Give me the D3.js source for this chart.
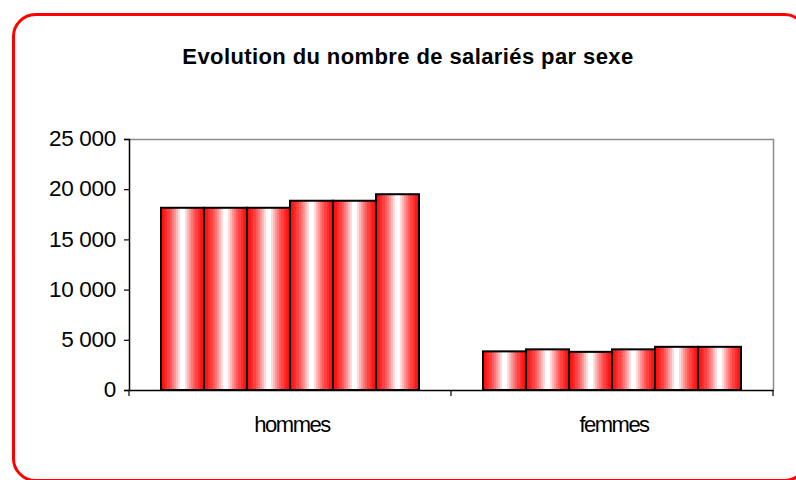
<!DOCTYPE html>
<html>
<head>
<meta charset="utf-8">
<script src="https://cdn.jsdelivr.net/npm/d3@7"></script>
<style>
html,body{margin:0;padding:0;background:#fff;}
svg{display:block;}
text{font-family:"Liberation Sans",Arial,sans-serif;fill:#000;}
</style>
</head>
<body>
<svg id="chart" width="796" height="480"></svg>
<script>
const title = "Evolution du nombre de salariés par sexe";
const categories = ["hommes", "femmes"];
const seriesNames = ["s1", "s2", "s3", "s4", "s5", "s6"];
const hommesValues = [18150, 18150, 18150, 18850, 18850, 19500];
const femmesValues = [3850, 4050, 3800, 4050, 4300, 4300];
const yTicks = [0, 5000, 10000, 15000, 20000, 25000];

const valuesByCat = {hommes: hommesValues, femmes: femmesValues};

const svg = d3.select("#chart");
const plot = {left: 129, right: 773, top: 139, bottom: 390};

// gradient (banded red-white-red)
const defs = svg.append("defs");
const grad = defs.append("linearGradient").attr("id", "barGrad")
  .attr("x1", "0").attr("x2", "1").attr("y1", "0").attr("y2", "0");
const nb = 10;
const colAt = t => d3.interpolateRgb("#ff0d0d", "#ffffff")(Math.pow(t, 1.4));
const stops = [];
for (let i = 0; i < nb; i++) {
  const c = colAt(i / (nb - 1));
  stops.push([i / nb * 0.5, c], [(i + 1) / nb * 0.5, c]);
}
for (let i = 0; i < nb; i++) {
  const c = colAt(1 - i / (nb - 1));
  stops.push([0.5 + i / nb * 0.5, c], [0.5 + (i + 1) / nb * 0.5, c]);
}
stops.forEach(s => grad.append("stop").attr("offset", s[0]).attr("stop-color", s[1]));

// outer rounded border
svg.append("rect")
  .attr("x", 13.5).attr("y", 14.5).attr("width", 793).attr("height", 466)
  .attr("rx", 22).attr("ry", 22)
  .attr("fill", "#fff").attr("stroke", "#ff0000").attr("stroke-width", 3);

// title
svg.append("text")
  .attr("x", 408).attr("y", 64)
  .attr("text-anchor", "middle")
  .style("font-size", "22px").style("font-weight", "bold")
  .style("letter-spacing", "0.4px")
  .text(title);

const x0 = d3.scaleBand().domain(categories).range([plot.left, plot.right]).paddingInner(0).paddingOuter(0);
const x1 = d3.scaleBand().domain(seriesNames).range([0, x0.bandwidth()]).paddingInner(0).paddingOuter(0.744);
const y = d3.scaleLinear().domain([0, 25000]).range([plot.bottom, plot.top]);

// plot area frame (top & right grey)
svg.append("path")
  .attr("d", `M${plot.left},${plot.top + 0.5}H${plot.right + 0.5}V${plot.bottom}`)
  .attr("fill", "none").attr("stroke", "#8c8c8c").attr("stroke-width", 1.5);

// bars
const gCats = svg.append("g").selectAll("g").data(categories).join("g")
  .attr("transform", d => `translate(${x0(d)},0)`);
gCats.selectAll("rect")
  .data(c => valuesByCat[c].map((v, i) => ({s: seriesNames[i], v})))
  .join("rect")
  .attr("x", d => x1(d.s))
  .attr("y", d => y(d.v))
  .attr("width", x1.bandwidth())
  .attr("height", d => y(0) - y(d.v))
  .attr("fill", "url(#barGrad)")
  .attr("stroke", "#000").attr("stroke-width", 2);

// y axis
const yAxis = d3.axisLeft(y).tickValues(yTicks).tickSize(5).tickPadding(8)
  .tickFormat(d => d3.format(",")(d).replace(/,/g, " "));
const gy = svg.append("g").attr("transform", `translate(${plot.left},0)`).call(yAxis);
gy.select(".domain").attr("stroke", "#000").attr("stroke-width", 1.5);
gy.selectAll(".tick line").attr("stroke", "#000").attr("stroke-width", 1.2);
gy.selectAll(".tick text")
  .style("font-size", "22.5px").style("letter-spacing", "-0.3px")
  .style("font-family", '"Liberation Sans",Arial,sans-serif')
  .attr("fill", "#000").attr("dy", "0.3em");

// x axis
const xAxis = d3.axisBottom(x0).tickSize(0).tickPadding(0);
const gx = svg.append("g").attr("transform", `translate(0,${plot.bottom})`).call(xAxis);
gx.select(".domain").attr("stroke", "#000").attr("stroke-width", 1.5);
gx.selectAll(".tick text")
  .style("font-size", "22px").style("letter-spacing", "-1.5px")
  .style("font-family", '"Liberation Sans",Arial,sans-serif')
  .attr("fill", "#000").attr("y", 42).attr("dy", 0)
  .attr("transform", "translate(2,0)");
// category boundary ticks
const bounds = [plot.left, ...categories.slice(1).map(c => x0(c)), plot.right];
gx.selectAll(".bound").data(bounds).join("line").attr("class", "bound")
  .attr("x1", d => d).attr("x2", d => d).attr("y1", 0).attr("y2", 6)
  .attr("stroke", "#000").attr("stroke-width", 1.2);
</script>
</body>
</html>
